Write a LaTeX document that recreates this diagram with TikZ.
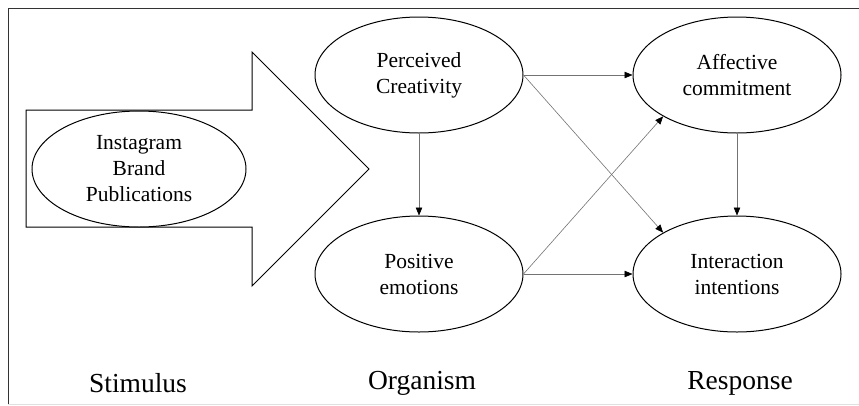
\documentclass[tikz,border=0pt]{standalone}
\usepackage{fontspec}
\setmainfont{Liberation Serif}
\usetikzlibrary{shapes.geometric,arrows.meta}

\begin{document}
\begin{tikzpicture}[x=1pt,y=-1pt]
        \useasboundingbox (0,0) rectangle (859,405);
        % frame
        \draw [black!80, line width=0.9pt] (8,405) -- (8,8) -- (859,8);
        \draw [black!12, line width=0.6pt] (8,404) -- (859,404);

        % stimulus arrow
        \draw [line width=1pt] (26,110) -- (252,110) -- (252,52) -- (369,169)
            -- (252,286) -- (252,227) -- (26,227) -- cycle;

        \begin{scope}[every node/.style={ellipse,draw=black,fill=white,line width=1pt,
                minimum width=208pt, minimum height=116pt, inner sep=0pt,
                align=center, font=\fontsize{21.5}{26}\selectfont}]
            \node (ibp) at (139,169) [minimum width=214pt] {Instagram\\Brand\\Publications};

            \node (pc) at (419,75) {Perceived\\Creativity};
            \node (pe) at (419,274) {Positive\\emotions};

            \node (ac) at (737,75) {Affective\\commitment};
            \node (ii) at (737,274) {Interaction\\intentions};
        \end{scope}

        \begin{scope}[every edge/.style={draw,black!55,line width=0.6pt,
                -{Triangle[length=8pt,width=6.5pt,black]}}]
            \path (pc) edge (pe);
            \path (pc) edge (ac);
            \path (pc.east) edge (ii.north west);

            \path (pe.east) edge (ac.south west);
            \path (pe) edge (ii);

            \path (ac) edge (ii);
        \end{scope}

        % stage labels
        \begin{scope}[every node/.style={font=\fontsize{27.5}{33}\selectfont}]
            \node (stim) at (138,383) {Stimulus};
            \node (org) at (422,383) {Organism};
            \node (resp) at (740,383) {Response};
        \end{scope}
    \end{tikzpicture}
\end{document}
